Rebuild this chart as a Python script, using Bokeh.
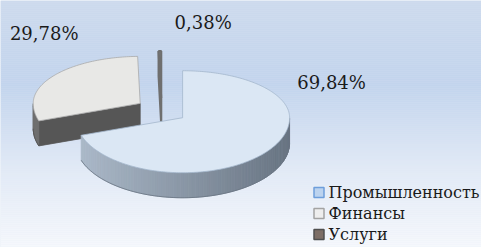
import numpy as np
from bokeh.plotting import figure
from bokeh.models import Range1d
from bokeh.core.properties import value
from bokeh.embed import file_html
from bokeh.resources import INLINE

# ---------------- data ----------------
categories = ["Промышленность", "Финансы", "Услуги"]
shares = [69.84, 29.78, 0.38]
label_texts = ["69,84%", "29,78%", "0,38%"]

# ---------------- styles / layout ----------------
top_colors = ["#dbe7f4", "#e8e8e6", "#8c8c8c"]
side_light = [(172, 186, 202), (110, 110, 110), (120, 120, 120)]
side_dark = [(104, 116, 130), (80, 80, 80), (100, 100, 100)]
face_colors = ["#8d9bab", "#565656", "#6f6f6f"]
edge_colors = ["#a3b6cc", "#a9a9a9", "#6f6f6f"]
legend_fill = ["#bcd3ef", "#eeeeee", "#7d6e66"]
legend_line = ["#6e9edb", "#a3a3a3", "#4f4f4f"]
label_offsets = [(149, -35), (-96, -70), (42, -76)]  # px from exploded slice centre

W, H = 481, 247
CX, CY = 161, 110
RX, RY_BACK, RY_FRONT = 107, 47, 55
DEPTH = 25
EXPLODE = 26
FONT = "DejaVu Serif"

p = figure(width=W, height=H, output_backend="svg", toolbar_location=None,
           x_range=Range1d(0, W), y_range=Range1d(H, 0),
           x_axis_location=None, y_axis_location=None, min_border=0)
p.grid.visible = False
p.outline_line_color = None
p.background_fill_color = "#dde7f4"
p.border_fill_color = "#dde7f4"

# background gradient (bands)
stops_y = [0, 85, 170, 247]
stops_c = [(205, 218, 237), (194, 212, 237), (226, 234, 246), (246, 248, 252)]
band_top = np.arange(0, 248, 2)
band_cols = []
for y in band_top:
    c = [int(round(np.interp(y + 1, stops_y, [s[i] for s in stops_c]))) for i in range(3)]
    band_cols.append("#%02x%02x%02x" % tuple(c))
p.quad(left=0, right=490, top=band_top, bottom=band_top + 2.2,
       fill_color=band_cols, line_color=None)


def rim(ox, oy, th):
    t = np.radians(th)
    ry = np.where(np.sin(t) < 0, RY_FRONT, RY_BACK)
    return ox + RX * np.cos(t), oy - ry * np.sin(t)


def hexc(c):
    return "#%02x%02x%02x" % tuple(int(round(v)) for v in c)


K = (RY_BACK + RY_FRONT) / 2 / RX
cum = np.concatenate([[0], np.cumsum(shares)])
slices = []
for i, s in enumerate(shares):
    a0 = 90 - 360 * cum[i] / 100.0
    a1 = 90 - 360 * cum[i + 1] / 100.0
    mid = np.radians((a0 + a1) / 2)
    ox = CX + EXPLODE * np.cos(mid)
    oy = CY - EXPLODE * K * np.sin(mid)
    slices.append((a0, a1, ox, oy))

# draw back to front
for i in [2, 1, 0]:
    a0, a1, ox, oy = slices[i]
    lw = 2.2 if i == 2 else 0.8
    # radial faces
    for edge, normal in [(a0, a0 + 90), (a1, a1 - 90)]:
        if np.sin(np.radians(normal)) < -1e-6:
            rx_, ry_ = rim(ox, oy, edge)
            xs = [ox, float(rx_), float(rx_), ox]
            ys = [oy, float(ry_), float(ry_) + DEPTH, oy + DEPTH]
            p.patch(xs, ys, fill_color=face_colors[i], line_color=face_colors[i], line_width=lw)
    # outer side wall
    n = max(int(abs(a0 - a1) / 2), 2)
    th = np.linspace(a1, a0, n + 1)
    sx, sy, sc = [], [], []
    for j in range(n):
        tm = np.radians((th[j] + th[j + 1]) / 2)
        if np.sin(tm) < 0:
            x0, y0 = rim(ox, oy, th[j])
            x1, y1 = rim(ox, oy, th[j + 1])
            sx.append([float(x0), float(x1), float(x1), float(x0)])
            sy.append([float(y0), float(y1), float(y1) + DEPTH, float(y0) + DEPTH])
            f = (np.cos(tm) + 1) / 2
            c = [side_light[i][k] + (side_dark[i][k] - side_light[i][k]) * f for k in range(3)]
            sc.append(hexc(c))
    if sx:
        p.patches(sx, sy, fill_color=sc, line_color=sc, line_width=0.8)
        bx = [x[0] for x in sx] + [sx[-1][1]]
        by = [y[3] for y in sy] + [sy[-1][2]]
        p.line(bx, by, line_color=hexc(side_dark[i]), line_width=0.8)
    # top surface
    th = np.linspace(a1, a0, max(int(abs(a0 - a1)), 2) + 1)
    tx, ty = rim(ox, oy, th)
    p.patch([ox] + list(tx), [oy] + list(ty), fill_color=top_colors[i],
            line_color=edge_colors[i], line_width=lw)

# data labels
lx = [slices[i][2] + label_offsets[i][0] for i in range(3)]
ly = [slices[i][3] + label_offsets[i][1] for i in range(3)]
p.text(x=lx, y=ly, text=label_texts, text_align="center", text_baseline="middle",
       text_font=value(FONT), text_font_size="18px", text_color="#1a1a1a")

# legend
leg_x = 318.5
leg_y = [192 + 21 * i for i in range(len(categories))]
p.scatter(x=[leg_x] * 3, y=leg_y, marker="square", size=10,
          fill_color=legend_fill, line_color=legend_line, line_width=1.5)
p.text(x=[leg_x + 9.5] * 3, y=leg_y, text=categories, text_align="left",
       text_baseline="middle", text_font=value(FONT), text_font_size="16px",
       text_color="#1a1a1a")

open("out.html", "w").write(file_html(p, INLINE))
